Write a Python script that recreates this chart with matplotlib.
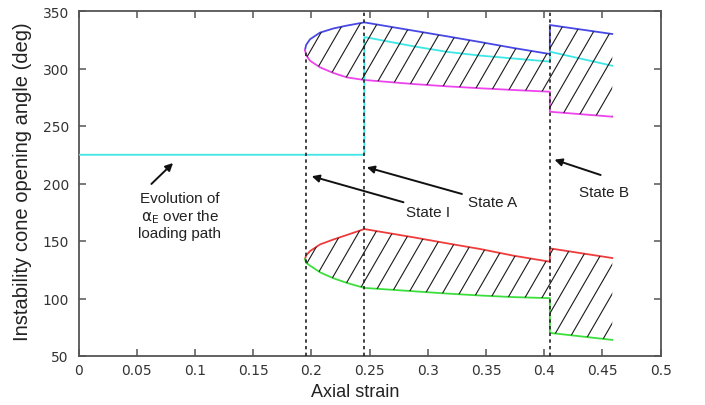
import numpy as np
import matplotlib
matplotlib.use("Agg")
import matplotlib.pyplot as plt
from matplotlib.lines import Line2D
from matplotlib.transforms import IdentityTransform

# ---------------- data ----------------
x_seg1 = [0.1945, 0.1955, 0.1988, 0.2074, 0.2189, 0.2304, 0.2455]
x_seg2 = [0.2455, 0.2877, 0.3164, 0.3451, 0.3738, 0.4048]
x_seg3 = [0.4048, 0.4584]

blue1 = [316.1, 320.5, 325.4, 331.2, 334.8, 337.3, 340.1]
blue2 = [340.1, 332.9, 328.0, 323.0, 317.8, 312.6]
blue3 = [337.8, 330.0]

magenta1 = [316.1, 311.5, 306.8, 301.0, 296.1, 292.3, 290.0]
magenta2 = [290.0, 286.5, 284.5, 282.8, 281.3, 279.8]
magenta3 = [262.4, 258.1]

red1 = [134.3, 137.5, 141.2, 147.0, 151.3, 155.2, 160.4]
red2 = [160.4, 153.2, 148.0, 143.0, 137.2, 132.0]
red3 = [143.6, 135.2]

green1 = [134.3, 131.0, 128.6, 122.8, 117.6, 113.6, 109.2]
green2 = [109.2, 106.3, 104.3, 102.6, 101.2, 100.3]
green3 = [70.1, 64.0]

x_cyan0 = [0.0, 0.2455]
cyan0 = [225.0, 225.0]
cyan2 = [327.4, 319.3, 314.5, 311.2, 308.7, 306.0]
cyan3 = [314.6, 302.4]

state_x = [0.195, 0.2455, 0.405]
state_top = [316.1, 350.0, 350.0]

xticks = [0, 0.05, 0.1, 0.15, 0.2, 0.25, 0.3, 0.35, 0.4, 0.45, 0.5]
xtick_labels = ["0", "0.05", "0.1", "0.15", "0.2", "0.25", "0.3", "0.35", "0.4", "0.45", "0.5"]
yticks = [50, 100, 150, 200, 250, 300, 350]

# ---------------- figure ----------------
W, H = 705, 406
fig = plt.figure(figsize=(W / 100, H / 100), dpi=100)
ax = fig.add_axes([78.5 / W, 1 - 357 / H, (660.7 - 78.5) / W, (357 - 12) / H])
ax.set_xlim(0, 0.5)
ax.set_ylim(50, 350)

C_BLUE = "#4848e6"
C_MAG = "#ee44ee"
C_CYAN = "#3ee6e6"
C_RED = "#f03c3c"
C_GREEN = "#3ce03c"


def hatch_region(x, ylo, yhi, spacing=17.0, angle=60.0):
    poly = ax.fill_between(x, ylo, yhi, facecolor="none", edgecolor="none", lw=0)
    path = poly.get_paths()[0]
    bb = ax.bbox
    run = bb.height / np.tan(np.radians(angle))
    x0 = bb.x0 - run
    while x0 < bb.x1:
        ln = Line2D([x0, x0 + run], [bb.y0, bb.y1], transform=IdentityTransform(),
                    color="#1a1a1a", lw=0.8, zorder=2)
        ln.set_clip_path(path, ax.transData)
        fig.add_artist(ln)
        x0 += spacing


x12 = x_seg1 + x_seg2[1:]
hatch_region(x12, magenta1 + magenta2[1:], blue1 + blue2[1:])
hatch_region(x_seg3, magenta3, blue3)
hatch_region(x12, green1 + green2[1:], red1 + red2[1:])
hatch_region(x_seg3, green3, red3)

lw = 1.3
ax.plot(x12 + x_seg3, blue1 + blue2[1:] + blue3, color=C_BLUE, lw=lw, zorder=3)
ax.plot(x12 + x_seg3, magenta1 + magenta2[1:] + magenta3, color=C_MAG, lw=lw, zorder=3)
ax.plot(x12 + x_seg3, red1 + red2[1:] + red3, color=C_RED, lw=lw, zorder=3)
ax.plot(x12 + x_seg3, green1 + green2[1:] + green3, color=C_GREEN, lw=lw, zorder=3)
ax.plot(x_cyan0 + x_seg2 + x_seg3, cyan0 + cyan2 + cyan3, color=C_CYAN, lw=lw, zorder=3)

for xs, top in zip(state_x, state_top):
    ax.plot([xs, xs], [50, top], color="#222222", lw=1.2, ls=(0, (2, 2)), zorder=4)

# ---------------- annotations ----------------
ann_font = dict(family=["Liberation Sans", "DejaVu Sans"], size=11, color="#222222")
arrow = dict(arrowstyle="-|>", color="#111111", lw=1.4, mutation_scale=11, shrinkA=0, shrinkB=0)

ax.text(0.0869, 172.0, "Evolution of\n$\\mathrm{\\alpha_E}$ over the\nloading path",
        ha="center", va="center", linespacing=1.15, **ann_font)
ax.annotate("", xy=(0.0812, 217.8), xytext=(0.0626, 199.6), arrowprops=arrow)

ax.text(0.2999, 175.0, "State I", ha="center", va="center", **ann_font)
ax.annotate("", xy=(0.2003, 206.3), xytext=(0.2791, 183.7), arrowprops=arrow)

ax.text(0.3552, 183.7, "State A", ha="center", va="center", **ann_font)
ax.annotate("", xy=(0.2476, 214.1), xytext=(0.3293, 190.9), arrowprops=arrow)

ax.text(0.4512, 192.9, "State B", ha="center", va="center", **ann_font)
ax.annotate("", xy=(0.4088, 220.7), xytext=(0.4484, 207.4), arrowprops=arrow)

# ---------------- axes styling ----------------
ax.set_xticks(xticks)
ax.set_xticklabels(xtick_labels)
ax.set_yticks(yticks)
ax.tick_params(direction="in", top=True, right=True, length=5, width=1.1,
               color="#555555", labelcolor="#333333", labelsize=10)
ax.tick_params(axis="x", pad=5)
ax.tick_params(axis="y", pad=7)
for sp in ax.spines.values():
    sp.set_color("#555555")
    sp.set_linewidth(1.3)

lab_font = dict(family=["Liberation Sans", "DejaVu Sans"], color="#222222")
ax.set_xlabel("Axial strain", fontsize=13, va="center", **lab_font)
ax.xaxis.set_label_coords(0.476, -0.104)
ax.set_ylabel("Instability cone opening angle (deg)", fontsize=14.5, va="center", **lab_font)
ax.yaxis.set_label_coords(-0.0954, 0.509)

fig.savefig("out.png", dpi=100)
